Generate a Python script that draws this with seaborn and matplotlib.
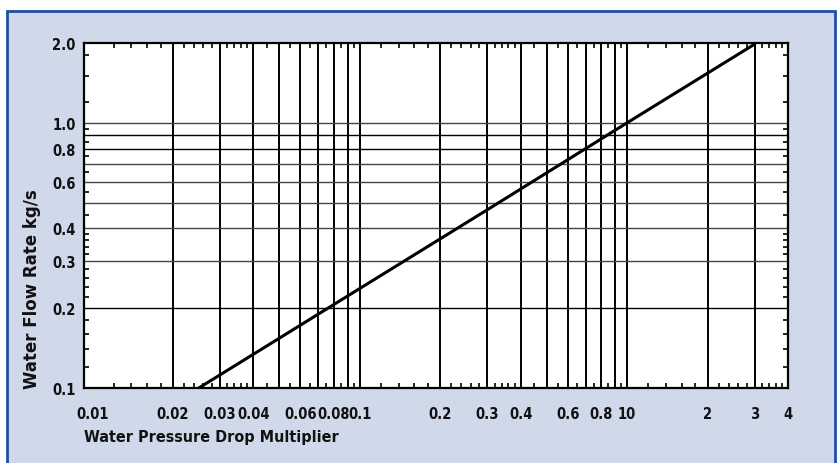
import matplotlib
matplotlib.use("Agg")
import matplotlib.pyplot as plt
from matplotlib.patches import Rectangle
from matplotlib.ticker import NullFormatter
import pandas as pd
import seaborn as sns

# line (log-log)
pressure_drop = [0.025, 0.07, 0.3, 1.0, 3.0]
flow_rate = [0.1, 0.19, 0.47, 1.0, 1.98]

x_ticks = [0.01, 0.02, 0.03, 0.04, 0.06, 0.08, 0.1, 0.2, 0.3, 0.4, 0.6, 0.8, 1.0, 2, 3, 4]
x_tick_labels = ["0.01", "0.02", "0.03", "0.04", "0.06", "0.08", "0.1", "0.2",
                 "0.3", "0.4", "0.6", "0.8", "10", "2", "3", "4"]
y_ticks = [0.1, 0.2, 0.3, 0.4, 0.6, 0.8, 1.0, 2.0]
y_tick_labels = ["0.1", "0.2", "0.3", "0.4", "0.6", "0.8", "1.0", "2.0"]

x_grid = [0.02, 0.03, 0.04, 0.05, 0.06, 0.07, 0.08, 0.09, 0.1,
          0.2, 0.3, 0.4, 0.5, 0.6, 0.7, 0.8, 0.9, 1.0, 2, 3]
y_grid_dark = [0.2, 0.8, 0.9]
y_grid_grey = [0.3, 0.4, 0.5, 0.6, 0.7, 1.0]

sns.set_style("white")
plt.rcParams["font.family"] = ["DejaVu Sans"]
plt.rcParams["font.stretch"] = "condensed"
plt.rcParams["font.weight"] = "bold"
plt.rcParams["axes.labelweight"] = "bold"

df = pd.DataFrame({"drop": pressure_drop, "flow": flow_rate})

fig = plt.figure(figsize=(8.38, 4.64), dpi=100, facecolor="white")
fig.patches.append(Rectangle((7 / 838, -0.05), 828 / 838, (464 - 12) / 464 + 0.05,
                             transform=fig.transFigure, facecolor="#cfd9ea",
                             edgecolor="#1f4f9f", linewidth=2, zorder=-10))
ax = fig.add_axes([84 / 838, 75 / 464, 704 / 838, 345 / 464])
ax.set_facecolor("white")

for xv in x_grid:
    ax.axvline(xv, color="black", lw=1.4, zorder=1)
for yv in y_grid_dark:
    ax.axhline(yv, color="black", lw=1.0, zorder=1)
for yv in y_grid_grey:
    ax.axhline(yv, color="#444444", lw=1.0, zorder=1)

sns.lineplot(data=df, x="drop", y="flow", color="black", linewidth=2.2, ax=ax, zorder=3)

ax.set_xscale("log")
ax.set_yscale("log")
ax.set_xlim(0.0093, 4.0)
ax.set_ylim(0.1, 2.0)

mult = [1.2, 1.4, 1.6, 1.8, 2.2, 2.4, 2.6, 2.8, 3.2, 3.4, 3.6, 3.8,
        4.5, 5.5, 6.5, 7.5, 8.5, 9.5]
x_minor = [m * d for d in [0.01, 0.1, 1.0] for m in mult if m * d < 4]
y_minor = [m * d for d in [0.1] for m in mult] + [1.2, 1.5, 1.8]

ax.set_xticks(x_ticks)
ax.set_xticklabels(x_tick_labels)
ax.set_yticks(y_ticks)
ax.set_yticklabels(y_tick_labels)
ax.set_xticks(x_minor, minor=True)
ax.set_yticks(y_minor, minor=True)
ax.xaxis.set_minor_formatter(NullFormatter())
ax.yaxis.set_minor_formatter(NullFormatter())

ax.tick_params(which="major", length=0, labelsize=10.5, colors="#111111")
ax.tick_params(axis="x", which="major", pad=13)
ax.tick_params(axis="y", which="major", pad=6)
ax.tick_params(which="minor", direction="in", length=3.5, width=1.2,
               top=True, right=True, bottom=True, left=True, color="black")

for s in ax.spines.values():
    s.set_visible(True)
    s.set_color("black")
    s.set_linewidth(1.6)

ax.set_xlabel("Water Pressure Drop Multiplier", fontsize=11.5, loc="left",
              labelpad=6, color="#111111")
ax.set_ylabel("Water Flow Rate kg/s", fontsize=12, loc="bottom", fontstretch="normal",
              labelpad=8, color="#111111")

fig.savefig("out.png", dpi=100, facecolor="white")
